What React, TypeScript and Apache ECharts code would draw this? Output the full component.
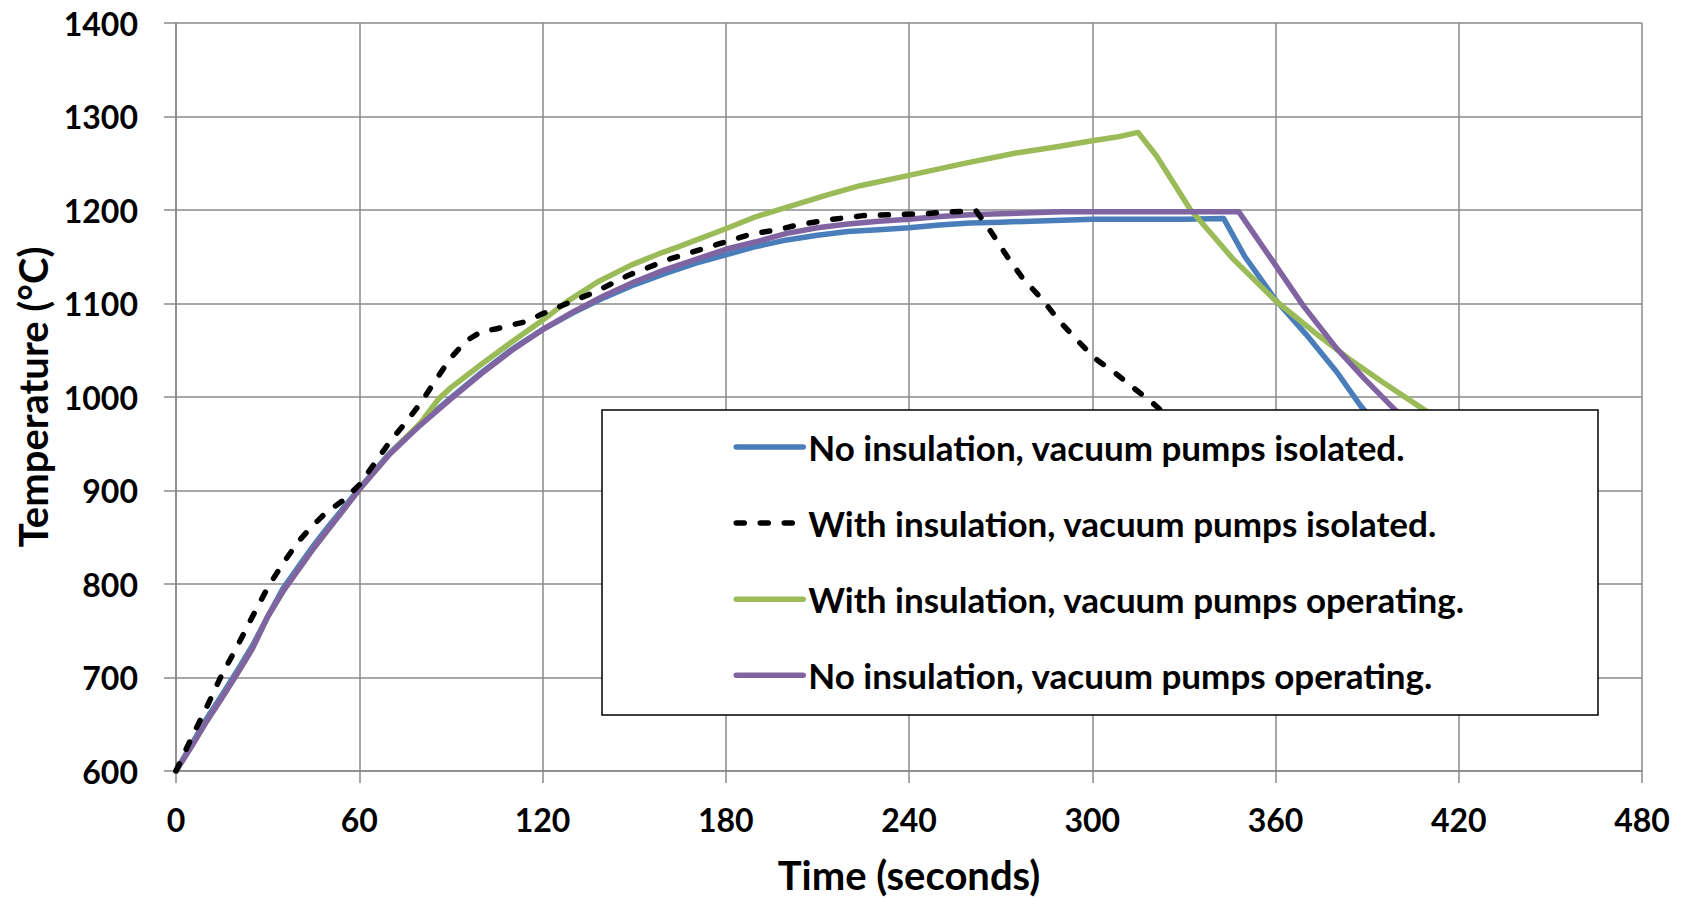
import React, { useEffect, useRef } from "react";
import * as echarts from "echarts";

const FONT = "Lato";

const xTicks = { min: 0, max: 480, interval: 60 };
const yTicks = { min: 600, max: 1400, interval: 100 };

const seriesNames = [
  "No insulation, vacuum pumps isolated.",
  "With insulation, vacuum pumps isolated.",
  "With insulation, vacuum pumps operating.",
  "No insulation, vacuum pumps operating.",
];

const blueT = [0, 5, 10, 15, 20, 25, 30, 35, 40, 45, 50, 55, 60, 70, 80, 90, 100, 110, 120, 130, 140, 150, 160, 170, 180, 190, 200, 210, 220, 230, 240, 250, 260, 270, 280, 290, 300, 310, 320, 330, 343, 350, 360, 370, 380, 388, 400];
const blueV = [600, 628, 656, 681, 707, 734, 765, 795, 818, 841, 862, 882, 902, 940, 971, 999, 1026, 1051, 1072, 1090, 1106, 1120, 1132, 1143, 1152, 1161, 1168, 1173, 1177, 1179, 1181, 1184, 1186, 1187, 1188, 1189, 1190, 1190, 1190, 1190, 1191, 1150, 1104, 1067, 1027, 990, 945];

const blackT = [0, 5, 10, 15, 20, 25, 30, 35, 40, 44, 49, 55, 60, 65, 70, 75, 80, 85, 90, 95, 100, 105, 110, 115, 120, 128, 137, 148, 155, 162, 168, 178, 188, 197, 205, 215, 225, 235, 245, 253, 262, 267, 272, 277, 284, 289, 295, 301, 307, 313, 320, 327];
const blackV = [600, 635, 668, 703, 733, 765, 796, 822, 845, 860, 876, 890, 906, 929, 952, 972, 993, 1018, 1042, 1060, 1070, 1073, 1077, 1081, 1089, 1100, 1112, 1130, 1139, 1148, 1154, 1164, 1174, 1179, 1185, 1190, 1194, 1195, 1196, 1198, 1199, 1176, 1151, 1128, 1103, 1082, 1061, 1041, 1027, 1011, 993, 972];

const greenT = [0, 5, 10, 15, 20, 25, 30, 35, 40, 45, 50, 55, 60, 70, 80, 86, 90, 100, 110, 120, 128, 138, 149, 158, 164, 180, 190, 202, 213, 224, 240, 257, 275, 289, 300, 308, 315, 321, 332, 346, 360, 374, 384, 395, 407, 420];
const greenV = [600, 626, 653, 678, 704, 731, 765, 792, 815, 838, 859, 880, 901, 939, 972, 998, 1010, 1035, 1059, 1082, 1102, 1123, 1141, 1153, 1160, 1180, 1193, 1205, 1216, 1226, 1237, 1249, 1261, 1268, 1274, 1278, 1283, 1258, 1201, 1148, 1103, 1066, 1041, 1016, 990, 962];

const purpleT = [0, 5, 10, 15, 20, 25, 30, 35, 40, 45, 50, 55, 60, 70, 80, 90, 100, 110, 120, 130, 140, 150, 160, 170, 180, 190, 200, 210, 220, 230, 240, 250, 260, 270, 280, 290, 300, 320, 348, 360, 369, 380, 389, 398, 410];
const purpleV = [600, 626, 653, 678, 704, 731, 765, 792, 815, 838, 859, 880, 901, 939, 970, 998, 1025, 1050, 1072, 1091, 1108, 1123, 1136, 1147, 1158, 1166, 1175, 1181, 1185, 1188, 1190, 1193, 1195, 1196, 1197, 1198, 1198, 1198, 1198, 1141, 1098, 1052, 1020, 990, 952];

const colors = ["#4A7EBB", "#000000", "#9BBB59", "#8064A2"];

const zip = (t: number[], v: number[]) => t.map((x, i) => [x, v[i]]);

export default function App() {
  const ref = useRef<HTMLDivElement>(null);
  useEffect(() => {
    if (!ref.current) return;
    const chart = echarts.init(ref.current, null, { renderer: "svg" });
    const gridColor = "#8A8A8A";
    const axisCommon = {
      axisLine: { show: true, lineStyle: { color: gridColor, width: 1.5 } },
      axisTick: { show: true, length: 12, lineStyle: { color: gridColor, width: 1.5 } },
      splitLine: { show: true, lineStyle: { color: gridColor, width: 1.5 } },
    };
    const datasets = [zip(blueT, blueV), zip(blackT, blackV), zip(greenT, greenV), zip(purpleT, purpleV)];
    chart.setOption({
      animation: false,
      backgroundColor: "#fff",
      textStyle: { fontFamily: FONT },
      grid: { left: 176, top: 23, right: 44, bottom: 126, containLabel: false },
      xAxis: {
        type: "value",
        ...xTicks,
        ...axisCommon,
        axisLabel: { fontSize: 32, fontWeight: "bold", color: "#000", fontFamily: FONT, margin: 32, formatter: (v: number) => String(v) },
        name: "Time (seconds)",
        nameLocation: "middle",
        nameGap: 84,
        nameTextStyle: { fontSize: 40, fontWeight: "bold", color: "#000", fontFamily: FONT },
      },
      yAxis: {
        type: "value",
        ...yTicks,
        ...axisCommon,
        axisLabel: { fontSize: 32, fontWeight: "bold", color: "#000", fontFamily: FONT, margin: 38, formatter: (v: number) => String(v) },
        name: "Temperature (°C)",
        nameLocation: "middle",
        nameGap: 113,
        nameTextStyle: { fontSize: 40, fontWeight: "bold", color: "#000", fontFamily: FONT },
      },
      legend: {
        orient: "vertical",
        left: 728.5,
        top: 424.5,
        itemWidth: 67,
        itemHeight: 14,
        itemGap: 41.1,
        z: 20,
        itemStyle: { opacity: 0 },
        lineStyle: { width: 5.5 },
        textStyle: { fontSize: 35, fontWeight: "bold", color: "#000", fontFamily: FONT, lineHeight: 32, padding: [0, 0, 0, 0] },
        data: seriesNames,
      },
      graphic: {
        elements: [
          {
            type: "rect",
            z: 10,
            shape: { x: 602, y: 410, width: 996, height: 305 },
            style: { fill: "#fff", stroke: "#000", lineWidth: 1.5 },
          },
        ],
      },
      series: seriesNames.map((name, i) => ({
        name,
        type: "line",
        data: datasets[i],
        symbol: "none",
        z: i === 1 ? 4 : 2 + i * 0.1,
        color: colors[i],
        lineStyle: {
          color: colors[i],
          width: 5.5,
          type: i === 1 ? [8, 16] : "solid",
          cap: "round",
          join: "round",
        },
      })),
    });
    return () => chart.dispose();
  }, []);
  return (
    <div
      ref={ref}
      style={{ position: "fixed", left: 0, top: 0, width: 1686, height: 900, background: "#fff" }}
    />
  );
}
